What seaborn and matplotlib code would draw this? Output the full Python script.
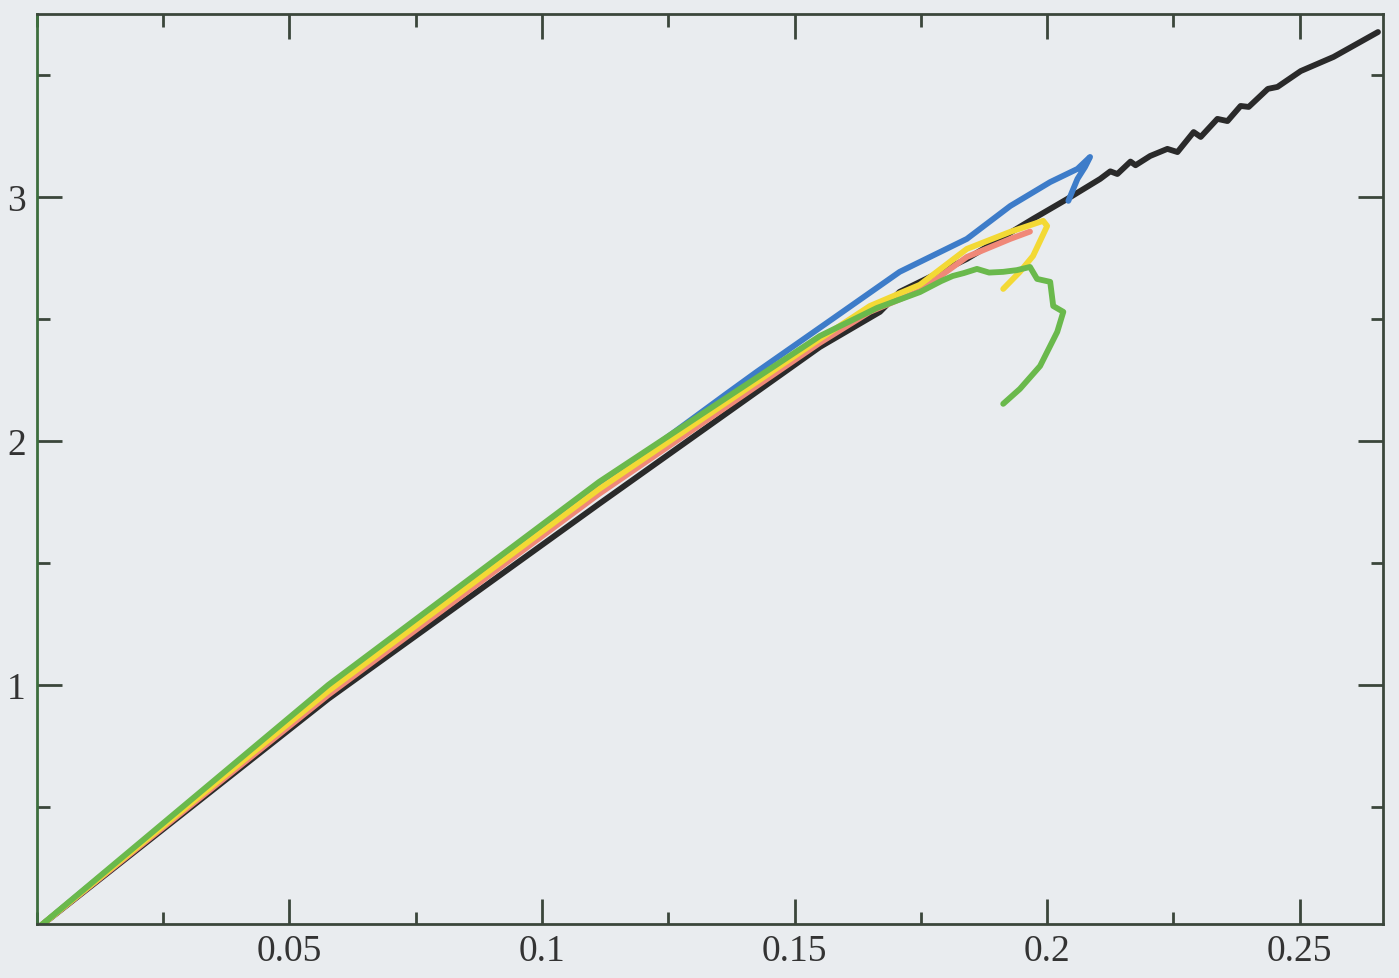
import matplotlib
matplotlib.use("Agg")
import matplotlib.pyplot as plt
import seaborn as sns
import pandas as pd
from matplotlib.ticker import MultipleLocator, FixedFormatter, FixedLocator

# ---- data ----
black_x = [0.0, 0.0577, 0.1113, 0.155, 0.1669, 0.1708, 0.1841, 0.1972, 0.204, 0.2105,
           0.2125, 0.2139, 0.2165, 0.2175, 0.2204, 0.2238, 0.2258, 0.229, 0.2304, 0.2337,
           0.2357, 0.2383, 0.2399, 0.2437, 0.2456, 0.2502, 0.2567, 0.2655]
black_y = [0.0, 0.943, 1.742, 2.385, 2.529, 2.611, 2.746, 2.910, 2.992, 3.074,
           3.105, 3.094, 3.145, 3.130, 3.168, 3.197, 3.184, 3.266, 3.246, 3.320,
           3.311, 3.373, 3.369, 3.443, 3.451, 3.516, 3.574, 3.676]

pink_x = [0.0, 0.0577, 0.1113, 0.155, 0.1649, 0.1748, 0.1841, 0.1927, 0.1966]
pink_y = [0.0, 0.959, 1.783, 2.402, 2.529, 2.615, 2.754, 2.828, 2.858]

blue_x = [0.0, 0.0577, 0.1113, 0.1365, 0.1425, 0.1575, 0.1708, 0.1841, 0.1927, 0.2006,
          0.2060, 0.2085, 0.2075, 0.2060, 0.2042]
blue_y = [0.0, 0.985, 1.810, 2.193, 2.283, 2.500, 2.693, 2.828, 2.963, 3.061,
          3.115, 3.164, 3.123, 3.074, 2.984]

yellow_x = [0.0, 0.0577, 0.1113, 0.155, 0.1649, 0.1748, 0.1841, 0.1927, 0.1992, 0.2000,
            0.1972, 0.1946, 0.1913]
yellow_y = [0.0, 0.975, 1.803, 2.418, 2.553, 2.640, 2.787, 2.857, 2.902, 2.881,
            2.758, 2.693, 2.623]

green_x = [0.0, 0.0577, 0.1113, 0.155, 0.1663, 0.1748, 0.1790, 0.1813, 0.1835, 0.1861,
           0.1885, 0.1913, 0.1940, 0.1966, 0.1980, 0.2006, 0.2012, 0.2032, 0.2020,
           0.1986, 0.1946, 0.1913]
green_y = [0.0, 1.000, 1.832, 2.430, 2.545, 2.610, 2.655, 2.676, 2.688, 2.705,
           2.690, 2.693, 2.700, 2.713, 2.664, 2.652, 2.553, 2.529, 2.447,
           2.307, 2.213, 2.152]

x_ticks = [0.05, 0.1, 0.15, 0.2, 0.25]
x_tick_labels = ["0.05", "0.1", "0.15", "0.2", "0.25"]
y_ticks = [1, 2, 3]
y_tick_labels = ["1", "2", "3"]

# ---- style ----
bg = "#e9ecef"
sns.set_style("ticks")
plt.rcParams["font.family"] = ["Liberation Serif", "DejaVu Serif"]

fig = plt.figure(figsize=(13.99, 9.79), dpi=100, facecolor=bg)
ax = fig.add_axes([0.0264, 0.0552, 0.9622, 0.9295])
ax.set_facecolor(bg)

series = [
    (black_x, black_y, "#2a2a2a"),
    (pink_x, pink_y, "#f08878"),
    (blue_x, blue_y, "#3d7cc9"),
    (yellow_x, yellow_y, "#f3d935"),
    (green_x, green_y, "#6ab94c"),
]
for xs, ys, c in series:
    df = pd.DataFrame({"x": xs, "y": ys})
    sns.lineplot(data=df, x="x", y="y", sort=False, estimator=None, color=c,
                 linewidth=4.2, ax=ax, solid_capstyle="round", solid_joinstyle="round")

ax.set_xlim(0, 0.2665)
ax.set_ylim(0.02, 3.75)
ax.set_xlabel("")
ax.set_ylabel("")

ax.xaxis.set_major_locator(FixedLocator(x_ticks))
ax.xaxis.set_major_formatter(FixedFormatter(x_tick_labels))
ax.yaxis.set_major_locator(FixedLocator(y_ticks))
ax.yaxis.set_major_formatter(FixedFormatter(y_tick_labels))
ax.xaxis.set_minor_locator(MultipleLocator(0.025))
ax.yaxis.set_minor_locator(MultipleLocator(0.5))

spine_col = "#3b463b"
for s in ["top", "bottom", "right"]:
    ax.spines[s].set_color(spine_col)
    ax.spines[s].set_linewidth(2.0)
ax.spines["left"].set_color("#3d6e3d")
ax.spines["left"].set_linewidth(2.0)

ax.tick_params(which="both", direction="in", top=True, right=True,
               color=spine_col, width=2.0, labelcolor="#333333", labelsize=27)
ax.tick_params(which="major", length=18)
ax.tick_params(which="minor", length=9)
ax.tick_params(axis="x", which="major", pad=7)
ax.tick_params(axis="y", which="major", pad=8)

fig.savefig("out.png", dpi=100, facecolor=bg)
